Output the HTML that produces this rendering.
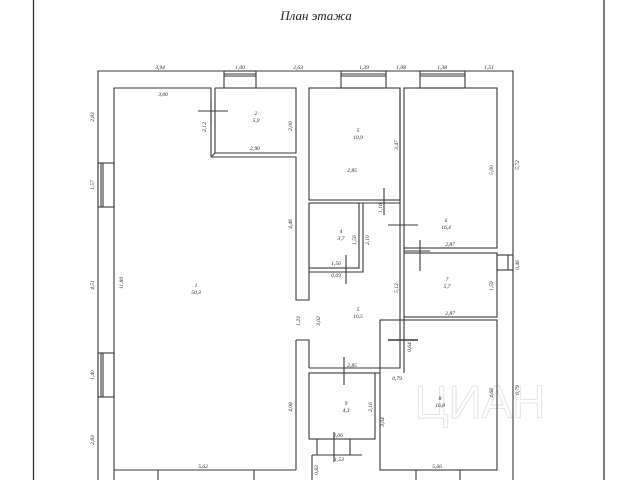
<!DOCTYPE html>
<html><head><meta charset="utf-8"><style>
html,body{margin:0;padding:0;background:#fff;}
svg{display:block;}
text{font-family:"Liberation Serif",serif;font-style:italic;fill:#222;}
</style></head><body>
<svg width="640" height="480" viewBox="0 0 640 480" xmlns="http://www.w3.org/2000/svg">
<rect width="640" height="480" fill="#fff"/>
<g stroke="#333" stroke-width="1.3" fill="none">
<line x1="33.5" y1="0" x2="33.5" y2="480"/>
<line x1="604" y1="0" x2="604" y2="480"/>
</g>
<text x="316" y="20" font-size="13" text-anchor="middle">План  этажа</text>
<text x="480" y="418" font-size="46" text-anchor="middle" style="font-family:'Liberation Sans',sans-serif;font-style:normal;fill:none;stroke:#e4e4e4;stroke-width:1">ЦИАН</text>
<g stroke="#3a3a3a" stroke-width="1.1" fill="none">
<polyline points="98,490 98,71 513,71 513,490"/>
<polyline points="114,490 114,88 211,88 211,157 296,157 296,300 309,300 309,203"/>
<line x1="114" y1="470" x2="296" y2="470"/>
<polyline points="296,340 309,340 309,368"/>
<line x1="296" y1="340" x2="296" y2="470"/>
<polyline points="215,88 215,153 296,153 296,88 215,88"/>
<line x1="211" y1="157" x2="215" y2="153"/>
<rect x="309" y="88" width="91" height="112"/>
<line x1="309" y1="203" x2="400" y2="203"/>
<rect x="404" y="88" width="93" height="160"/>
<line x1="400" y1="88" x2="400" y2="320"/>
<line x1="404" y1="248" x2="404" y2="253"/>
<rect x="404" y="253" width="93" height="64"/>
<rect x="309" y="203" width="50" height="65"/>
<polyline points="363,203 363,272 309,272"/>
<polyline points="309,368 400,368 400,320 404,320 404,317"/>
<rect x="309" y="373" width="66" height="66"/>
<rect x="380" y="320" width="117" height="150"/>
<line x1="404" y1="320" x2="404" y2="373"/>
<line x1="375" y1="373" x2="380" y2="373"/>
<line x1="312" y1="455" x2="362" y2="455"/>
<line x1="312" y1="455" x2="312" y2="480"/>
<line x1="317" y1="439" x2="317" y2="455"/>
<line x1="350" y1="439" x2="350" y2="455"/>
<rect x="224" y="71" width="32" height="17"/><line x1="224" y1="74" x2="256" y2="74"/><line x1="224" y1="76" x2="256" y2="76"/>
<rect x="341" y="71" width="45" height="17"/><line x1="341" y1="74" x2="386" y2="74"/><line x1="341" y1="76" x2="386" y2="76"/>
<rect x="420" y="71" width="45" height="17"/><line x1="420" y1="74" x2="465" y2="74"/><line x1="420" y1="76" x2="465" y2="76"/>
<rect x="98" y="163" width="16" height="44"/><line x1="101" y1="163" x2="101" y2="207"/><line x1="103" y1="163" x2="103" y2="207"/>
<rect x="98" y="353" width="16" height="44"/><line x1="101" y1="353" x2="101" y2="397"/><line x1="103" y1="353" x2="103" y2="397"/>
<rect x="497" y="255" width="16" height="15"/><line x1="508" y1="255" x2="508" y2="270"/>
<line x1="158" y1="470" x2="158" y2="480"/><line x1="254" y1="470" x2="254" y2="480"/>
<line x1="416" y1="470" x2="416" y2="480"/><line x1="460" y1="470" x2="460" y2="480"/>
<line x1="198" y1="111" x2="228" y2="111"/><line x1="211" y1="100" x2="211" y2="125"/>
<line x1="384" y1="188" x2="384" y2="215"/>
<line x1="388" y1="225" x2="418" y2="225"/>
<line x1="420" y1="240" x2="420" y2="271"/><line x1="404" y1="251" x2="430" y2="251"/>
<line x1="346" y1="255" x2="346" y2="284"/>
<line x1="388" y1="340" x2="418" y2="340" stroke-width="1.4"/>
<line x1="344" y1="357" x2="344" y2="385"/>
<line x1="334" y1="432" x2="334" y2="462"/>
</g>
<g font-size="5.5" text-anchor="middle">
<text x="160" y="69">3,94</text><text x="240" y="69">1,00</text><text x="298" y="69">2,63</text>
<text x="364" y="69">1,39</text><text x="401" y="69">1,08</text><text x="442" y="69">1,38</text><text x="489" y="69">1,51</text>
<text x="163" y="96">3,00</text><text x="255" y="150">2,90</text>
<text x="352" y="172">2,85</text><text x="450" y="246">2,87</text><text x="450" y="315">2,87</text>
<text x="352" y="367">2,85</text><text x="338" y="437">2,06</text><text x="339" y="461">1,53</text>
<text x="203" y="468">5,62</text><text x="437" y="468">5,66</text>
<text x="336" y="265">1,56</text><text x="336" y="277">0,69</text><text x="397" y="380">0,79</text>
<text x="256" y="115">2</text><text x="256" y="122">5,0</text>
<text x="358" y="132">5</text><text x="358" y="139">10,9</text>
<text x="446" y="222">6</text><text x="446" y="229">16,4</text>
<text x="341" y="233">4</text><text x="341" y="240">3,7</text>
<text x="196" y="287">1</text><text x="196" y="294">50,3</text>
<text x="358" y="311">5</text><text x="358" y="318">10,5</text>
<text x="447" y="281">7</text><text x="447" y="288">5,7</text>
<text x="440" y="400">8</text><text x="440" y="407">16,8</text>
<text x="346" y="405">9</text><text x="346" y="412">4,3</text>
</g>
<g font-size="5.5" text-anchor="middle">
<text transform="translate(94,117) rotate(-90)">2,83</text>
<text transform="translate(94,185) rotate(-90)">1,57</text>
<text transform="translate(94,285) rotate(-90)">4,51</text>
<text transform="translate(94,375) rotate(-90)">1,40</text>
<text transform="translate(94,440) rotate(-90)">2,83</text>
<text transform="translate(123,283) rotate(-90)">11,89</text>
<text transform="translate(206,127) rotate(-90)">2,12</text>
<text transform="translate(292,126) rotate(-90)">2,00</text>
<text transform="translate(292,224) rotate(-90)">4,46</text>
<text transform="translate(292,407) rotate(-90)">4,08</text>
<text transform="translate(300,321) rotate(-90)">1,23</text>
<text transform="translate(320,321) rotate(-90)">3,02</text>
<text transform="translate(398,145) rotate(-90)">3,47</text>
<text transform="translate(493,170) rotate(-90)">5,00</text>
<text transform="translate(519,165) rotate(-90)">5,72</text>
<text transform="translate(519,265) rotate(-90)">0,46</text>
<text transform="translate(493,286) rotate(-90)">1,59</text>
<text transform="translate(398,288) rotate(-90)">5,12</text>
<text transform="translate(411,347) rotate(-90)">0,64</text>
<text transform="translate(493,393) rotate(-90)">4,68</text>
<text transform="translate(519,390) rotate(-90)">6,79</text>
<text transform="translate(372,407) rotate(-90)">2,16</text>
<text transform="translate(384,422) rotate(-90)">3,04</text>
<text transform="translate(356,240) rotate(-90)">1,56</text>
<text transform="translate(369,240) rotate(-90)">2,10</text>
<text transform="translate(382,208) rotate(-90)">1,16</text>
<text transform="translate(318,470) rotate(-90)">0,83</text>
</g>
</svg>
</body></html>
